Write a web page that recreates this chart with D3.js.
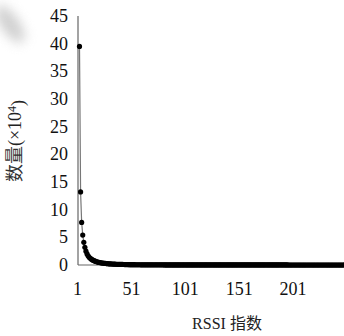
<!DOCTYPE html>
<html>
<head>
<meta charset="utf-8">
<script src="https://cdn.jsdelivr.net/npm/d3@7/dist/d3.min.js"></script>
<style>
  html, body { margin: 0; padding: 0; background: #fff; }
  svg { display: block; }
  .tick-label { font-family: "Liberation Serif", "DejaVu Serif", serif; font-size: 18px; fill: #111; }
  .axis-title { font-family: "Liberation Serif", "Noto Sans CJK SC", serif; fill: #222; }
</style>
</head>
<body>
<svg id="chart" width="344" height="336"></svg>
<script>
// RSSI index counts (×10^4), index 1..250
const countsHead = [
  39.5, 13.2, 7.7, 5.4, 4.1, 3.2, 2.5, 2.0, 1.65, 1.4,
  1.2, 1.05, 0.92, 0.82, 0.73, 0.65, 0.58, 0.52, 0.47, 0.43,
  0.39, 0.36, 0.33, 0.30, 0.28, 0.26, 0.24, 0.22, 0.21, 0.19,
  0.18, 0.17, 0.16, 0.15, 0.14, 0.13, 0.12, 0.115, 0.11, 0.10,
  0.095, 0.09, 0.085, 0.08, 0.075, 0.07, 0.066, 0.062, 0.058, 0.055
];
const countsTail = [
  0.052, 0.05, 0.048, 0.046, 0.044, 0.042, 0.041, 0.04, 0.038, 0.037,
  0.036, 0.035, 0.034, 0.033, 0.032, 0.031, 0.03, 0.029, 0.029, 0.028,
  0.027, 0.027, 0.026, 0.025, 0.025, 0.024, 0.024, 0.023, 0.023, 0.022,
  0.022, 0.021, 0.021, 0.02, 0.02, 0.02, 0.019, 0.019, 0.018, 0.018,
  0.018, 0.017, 0.017, 0.017, 0.016, 0.016, 0.016, 0.015, 0.015, 0.015,
  0.015, 0.014, 0.014, 0.014, 0.014, 0.013, 0.013, 0.013, 0.013, 0.012,
  0.012, 0.012, 0.012, 0.012, 0.011, 0.011, 0.011, 0.011, 0.011, 0.011,
  0.010, 0.010, 0.010, 0.010, 0.010, 0.010, 0.010, 0.010, 0.010, 0.010,
  0.010, 0.010, 0.009, 0.009, 0.009, 0.009, 0.009, 0.009, 0.009, 0.009,
  0.009, 0.009, 0.008, 0.008, 0.008, 0.008, 0.008, 0.008, 0.008, 0.008,
  0.008, 0.008, 0.008, 0.007, 0.007, 0.007, 0.007, 0.007, 0.007, 0.007,
  0.007, 0.007, 0.007, 0.007, 0.007, 0.006, 0.006, 0.006, 0.006, 0.006,
  0.006, 0.006, 0.006, 0.006, 0.006, 0.006, 0.006, 0.006, 0.005, 0.005,
  0.005, 0.005, 0.005, 0.005, 0.005, 0.005, 0.005, 0.005, 0.005, 0.005,
  0.005, 0.005, 0.005, 0.005, 0.004, 0.004, 0.004, 0.004, 0.004, 0.004,
  0.004, 0.004, 0.004, 0.004, 0.004, 0.004, 0.004, 0.004, 0.004, 0.004,
  0.004, 0.003, 0.003, 0.003, 0.003, 0.003, 0.003, 0.003, 0.003, 0.003,
  0.003, 0.003, 0.003, 0.003, 0.003, 0.003, 0.003, 0.003, 0.003, 0.003,
  0.003, 0.002, 0.002, 0.002, 0.002, 0.002, 0.002, 0.002, 0.002, 0.002,
  0.002, 0.002, 0.002, 0.002, 0.002, 0.002, 0.002, 0.002, 0.002, 0.002
];
const counts = countsHead.concat(countsTail);
const points = counts.map((v, i) => ({ idx: i + 1, value: v }));

const xTickValues = [1, 51, 101, 151, 201];
const yTickValues = [0, 5, 10, 15, 20, 25, 30, 35, 40, 45];
const xTitle = "RSSI 指数";

const svg = d3.select("#chart");

// faint smudge in the upper-left corner
const defs = svg.append("defs");
defs.append("filter").attr("id", "soft")
  .attr("x", "-100%").attr("y", "-100%").attr("width", "300%").attr("height", "300%")
  .append("feGaussianBlur").attr("stdDeviation", 6);
svg.append("ellipse")
  .attr("cx", 10).attr("cy", 24).attr("rx", 9).attr("ry", 22)
  .attr("transform", "rotate(-35 10 24)")
  .attr("fill", "#c0c0c0").attr("opacity", 0.75)
  .attr("filter", "url(#soft)");

const x = d3.scaleLinear().domain([1, 201]).range([79.5, 295]);
const y = d3.scaleLinear().domain([0, 45]).range([265, 16]);

const axisX0 = 78;

// axis lines
svg.append("line")
  .attr("x1", axisX0).attr("x2", axisX0)
  .attr("y1", y(45)).attr("y2", y(0))
  .attr("stroke", "#666").attr("stroke-width", 1.2);
svg.append("line")
  .attr("x1", axisX0).attr("x2", 344)
  .attr("y1", y(0)).attr("y2", y(0))
  .attr("stroke", "#666").attr("stroke-width", 1.2);

// y tick labels
svg.append("g").selectAll("text")
  .data(yTickValues).join("text")
  .attr("class", "tick-label")
  .attr("x", 68).attr("y", d => y(d))
  .attr("text-anchor", "end")
  .attr("dy", "0.34em")
  .text(d => d);

// x tick labels
svg.append("g").selectAll("text")
  .data(xTickValues).join("text")
  .attr("class", "tick-label")
  .attr("x", d => x(d) - 2).attr("y", 289)
  .attr("text-anchor", "middle")
  .attr("dy", "0.34em")
  .text(d => d);

// connecting line
const line = d3.line().x(d => x(d.idx)).y(d => y(d.value));
svg.append("path")
  .datum(points)
  .attr("d", line)
  .attr("fill", "none")
  .attr("stroke", "#777")
  .attr("stroke-width", 1.2);

// markers
svg.append("g").selectAll("circle")
  .data(points).join("circle")
  .attr("cx", d => x(d.idx))
  .attr("cy", d => y(d.value))
  .attr("r", 2.6)
  .attr("fill", "#000");

// axis titles
svg.append("text")
  .attr("class", "axis-title")
  .attr("x", 227).attr("y", 323)
  .attr("text-anchor", "middle")
  .attr("dy", "0.35em")
  .style("font-size", "16px")
  .text(xTitle);

const yTitle = svg.append("text")
  .attr("class", "axis-title")
  .attr("transform", "translate(15,141) rotate(-90)")
  .attr("text-anchor", "middle")
  .attr("dy", "0.35em")
  .style("font-size", "18px");
yTitle.append("tspan").style("font-family", "'Noto Sans CJK SC', sans-serif").style("fill", "#333").text("数量");
yTitle.append("tspan").text("(×10");
yTitle.append("tspan").attr("dy", "-0.45em").style("font-size", "12px").text("4");
yTitle.append("tspan").attr("dy", "0.45em").text(")");
</script>
</body>
</html>
